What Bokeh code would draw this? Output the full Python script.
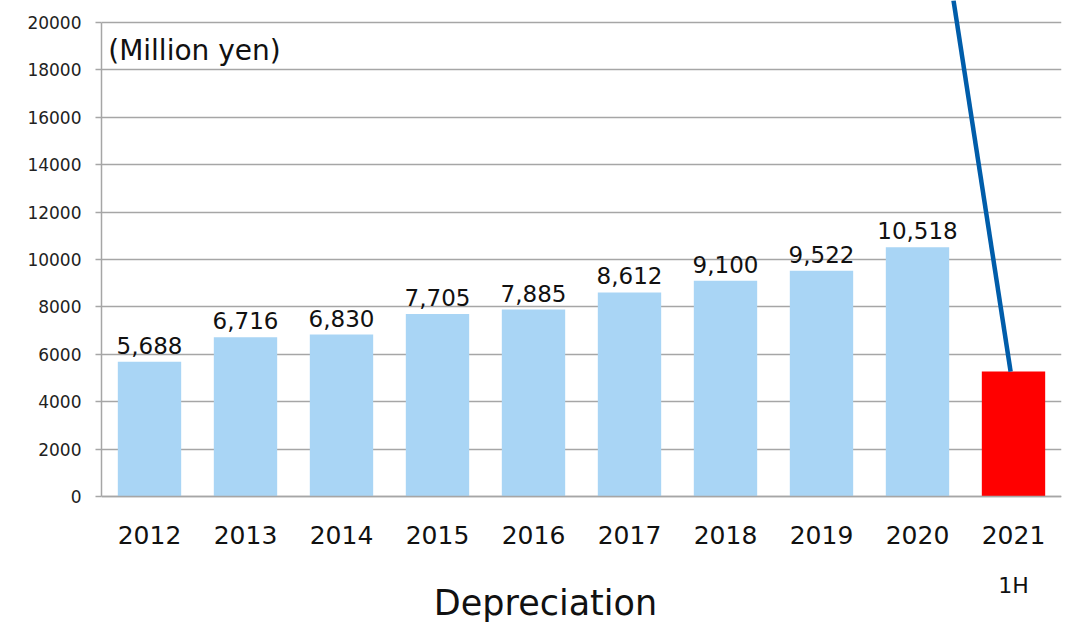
from bokeh.plotting import figure
from bokeh.models import ColumnDataSource, FactorRange, Range1d, Label, FixedTicker
from bokeh.core.properties import value
from bokeh.embed import file_html
from bokeh.resources import INLINE

years = ["2012", "2013", "2014", "2015", "2016", "2017", "2018", "2019", "2020", "2021"]
values = [5688, 6716, 6830, 7705, 7885, 8612, 9100, 9522, 10518, 5270]
labels = ["5,688", "6,716", "6,830", "7,705", "7,885", "8,612", "9,100", "9,522", "10,518", ""]
colors = ["#A9D5F5"] * 9 + ["#FF0000"]
y_ticks = list(range(0, 20001, 2000))
callout_x = [8.875, 9.47]
callout_y = [20930, 5270]

FONT = "DejaVu Sans"
GRID = "#A6A6A6"

src = ColumnDataSource(dict(x=years, top=values, label=labels, color=colors))

p = figure(x_range=FactorRange(*years), y_range=Range1d(-5317, 20928),
           width=1066, height=622, output_backend="svg", toolbar_location=None,
           min_border_left=101, min_border_right=5, min_border_top=0, min_border_bottom=0)
p.outline_line_color = None
p.background_fill_color = "white"

p.vbar(x="x", top="top", width=0.66, color="color", source=src, line_color=None)
p.text(x="x", y="top", text="label", source=src, text_align="center", text_baseline="bottom",
       y_offset=-8, text_font_size="23px", text_color="#111111", text_font=value(FONT))

p.line(callout_x, callout_y, line_color="#005DAA", line_width=4.5)

# grid
p.xgrid.grid_line_color = None
p.ygrid.grid_line_color = GRID
p.ygrid.grid_line_width = 1.5
p.yaxis.ticker = FixedTicker(ticks=y_ticks)

# y axis
p.yaxis.bounds = (0, 20000)
p.yaxis.axis_line_color = GRID
p.yaxis.axis_line_width = 1.5
p.yaxis.major_tick_line_color = GRID
p.yaxis.major_tick_line_width = 1.5
p.yaxis.major_tick_out = 6
p.yaxis.major_tick_in = 0
p.yaxis.minor_tick_line_color = None
p.yaxis.major_label_standoff = 14
p.yaxis.major_label_text_font = FONT
p.yaxis.major_label_text_font_size = "17px"
p.yaxis.major_label_text_color = "#222222"

# x axis, drawn at y = 0 inside the frame
p.xaxis.fixed_location = 0
p.xaxis.axis_line_color = GRID
p.xaxis.axis_line_width = 1.5
p.xaxis.major_tick_line_color = None
p.xaxis.minor_tick_line_color = None
p.xaxis.major_label_standoff = 24
p.xaxis.major_label_text_font = FONT
p.xaxis.major_label_text_font_size = "25px"
p.xaxis.major_label_text_color = "#111111"

p.add_layout(Label(x=0.07, y=18819, text="(Million yen)", text_baseline="middle",
                   text_font=FONT, text_font_size="28px", text_color="#111111"))
p.add_layout(Label(x=9.5, y=-3755, text="1H", text_align="center", text_baseline="middle",
                   text_font=FONT, text_font_size="22px", text_color="#111111"))
p.add_layout(Label(x=4.625, y=-4515, text="Depreciation", text_align="center", text_baseline="middle",
                   text_font=FONT, text_font_size="35px", text_color="#111111"))

open("out.html", "w").write(file_html(p, INLINE))
